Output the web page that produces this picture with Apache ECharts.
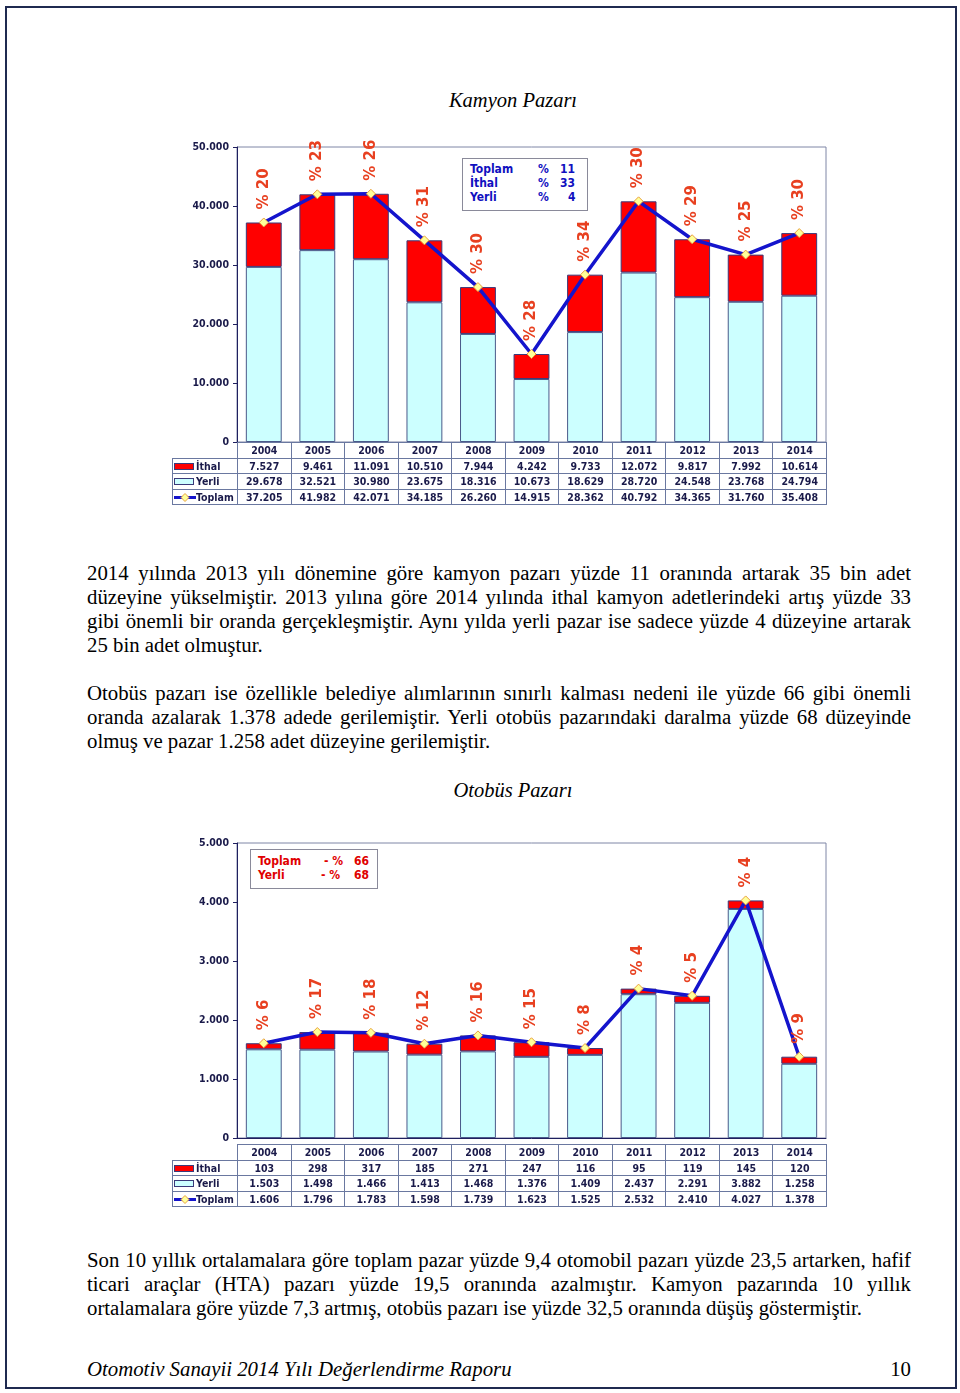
<!DOCTYPE html>
<html>
<head>
<meta charset="utf-8">
<script src="https://cdn.jsdelivr.net/npm/echarts@6/dist/echarts.min.js"></script>
<style>
  html, body { margin:0; padding:0; background:#fff; }
  body { width:960px; height:1393px; position:relative; overflow:hidden; }
  .frame { position:absolute; left:5px; top:6px; width:948px; height:1379px; border:2px solid #1F2A50; }
  .title { position:absolute; left:0; width:1026px; text-align:center; font-family:"Liberation Serif","DejaVu Serif",serif; font-style:italic; font-size:20.5px; color:#000; line-height:24px; }
  .line { position:absolute; left:87px; width:824px; font-family:"Liberation Serif","DejaVu Serif",serif; font-size:20.8px; line-height:24px; color:#000; white-space:nowrap; }
  .line span { display:inline-block; transform-origin:0 50%; white-space:pre; }
  .chart { position:absolute; left:172px; width:660px; }
  table.dt { position:absolute; left:172px; border-collapse:collapse; table-layout:fixed; font-family:"DejaVu Sans Condensed","DejaVu Sans",sans-serif; font-weight:bold; font-size:10.5px; color:#1A1A4A; }
  table.dt td { border:1px solid #6A78A0; padding:0; text-align:center; height:14.5px; line-height:14px; white-space:nowrap; overflow:hidden; }
  table.dt td.blank { border:none; border-right:1px solid #6A78A0; }
  table.dt td.lab { text-align:left; padding-left:1px; }
  .sw { display:inline-block; width:20px; height:7px; vertical-align:-0px; margin-right:2px; box-sizing:border-box; }
  .box { position:absolute; background:#fff; border:1px solid #8A8A9A; font-family:"DejaVu Sans Condensed","DejaVu Sans",sans-serif; font-weight:bold; font-size:12px; line-height:14px; }
  .box div { position:relative; height:14px; }
  .box span { position:absolute; }
</style>
</head>
<body>
<div class="frame"></div>

<div class="title" style="top:88px;">Kamyon Pazarı</div>
<div id="c1" class="chart" style="top:130px;height:320px;"></div>
<table id="t1" class="dt" style="top:442px;"></table>
<div class="box" style="left:462px;top:158px;width:124px;height:51px;color:#1010C0;">
  <div style="margin-top:3px;"><span style="left:7px;">Toplam</span><span style="left:75px;">%</span><span style="left:97px;">11</span></div>
  <div><span style="left:7px;">İthal</span><span style="left:75px;">%</span><span style="left:97px;">33</span></div>
  <div><span style="left:7px;">Yerli</span><span style="left:75px;">%</span><span style="left:105px;">4</span></div>
</div>

<div id="txt"></div>

<div class="title" style="top:778px;">Otobüs Pazarı</div>
<div id="c2" class="chart" style="top:826px;height:320px;"></div>
<table id="t2" class="dt" style="top:1144px;"></table>
<div class="box" style="left:250px;top:849px;width:126px;height:38px;color:#E00000;">
  <div style="margin-top:4px;"><span style="left:7px;">Toplam</span><span style="left:73px;">- %</span><span style="left:103px;">66</span></div>
  <div><span style="left:7px;">Yerli</span><span style="left:70px;">- %</span><span style="left:103px;">68</span></div>
</div>

<script>
// ---------------- DATA ----------------
const years = ['2004','2005','2006','2007','2008','2009','2010','2011','2012','2013','2014'];

const kamyonIthal  = [7527, 9461, 11091, 10510, 7944, 4242, 9733, 12072, 9817, 7992, 10614];
const kamyonYerli  = [29678, 32521, 30980, 23675, 18316, 10673, 18629, 28720, 24548, 23768, 24794];
const kamyonToplam = [37205, 41982, 42071, 34185, 26260, 14915, 28362, 40792, 34365, 31760, 35408];
const kamyonPct    = [20, 23, 26, 31, 30, 28, 34, 30, 29, 25, 30];

const otobusIthal  = [103, 298, 317, 185, 271, 247, 116, 95, 119, 145, 120];
const otobusYerli  = [1503, 1498, 1466, 1413, 1468, 1376, 1409, 2437, 2291, 3882, 1258];
const otobusToplam = [1606, 1796, 1783, 1598, 1739, 1623, 1525, 2532, 2410, 4027, 1378];
const otobusPct    = [6, 17, 18, 12, 16, 15, 8, 4, 5, 4, 9];

const rowNames = ['İthal', 'Yerli', 'Toplam'];

const textLines = [
  // [text, centerY, justify]
  ['2014 yılında 2013 yılı dönemine göre kamyon pazarı yüzde 11 oranında artarak 35 bin adet', 573, true],
  ['düzeyine yükselmiştir. 2013 yılına göre 2014 yılında ithal kamyon adetlerindeki artış yüzde 33', 597, true],
  ['gibi önemli bir oranda gerçekleşmiştir. Aynı yılda yerli pazar ise sadece yüzde 4 düzeyine artarak', 621, true],
  ['25 bin adet olmuştur.', 645, false],
  ['Otobüs pazarı ise özellikle belediye alımlarının sınırlı kalması nedeni ile yüzde 66 gibi önemli', 693, true],
  ['oranda azalarak 1.378 adede gerilemiştir. Yerli otobüs pazarındaki daralma yüzde 68 düzeyinde', 717, true],
  ['olmuş ve pazar 1.258 adet düzeyine gerilemiştir.', 741, false],
  ['Son 10 yıllık ortalamalara göre toplam pazar yüzde 9,4 otomobil pazarı yüzde 23,5 artarken, hafif', 1260, true],
  ['ticari araçlar (HTA) pazarı yüzde 19,5 oranında azalmıştır. Kamyon pazarında 10 yıllık', 1284, true],
  ['ortalamalara göre yüzde 7,3 artmış, otobüs pazarı ise yüzde 32,5 oranında düşüş göstermiştir.', 1308, false]
];
const footerText = 'Otomotiv Sanayii 2014 Yılı Değerlendirme Raporu';
const pageNo = '10';

// ---------------- HELPERS ----------------
function fmt(v) {
  return String(v).replace(/\B(?=(\d{3})+(?!\d))/g, '.');
}

const AXIS_FONT = '"DejaVu Sans Condensed","DejaVu Sans",sans-serif';

function makeOption(yerli, ithal, toplam, pct, maxV, step) {
  return {
    animation: false,
    grid: { left: 65, right: 6, top: 17, bottom: 8, show: true, borderColor: '#7E86A6', borderWidth: 1 },
    xAxis: {
      type: 'category', data: years,
      axisLabel: { show: false }, axisTick: { show: false },
      axisLine: { lineStyle: { color: '#1F1F5F', width: 1 } }
    },
    yAxis: {
      type: 'value', min: 0, max: maxV, interval: step,
      axisLine: { show: true, lineStyle: { color: '#1F1F5F', width: 1 } },
      axisTick: { show: true, length: 4, lineStyle: { color: '#1F1F5F' } },
      splitLine: { show: false },
      axisLabel: { formatter: fmt, color: '#1A1A4A', fontWeight: 'bold', fontSize: 10.5, fontFamily: AXIS_FONT, margin: 8 }
    },
    series: [
      { type: 'bar', stack: 's', data: yerli, barWidth: '67%',
        itemStyle: { color: '#CCFFFF', borderColor: '#4A5A8A', borderWidth: 1 } },
      { type: 'bar', stack: 's', data: ithal, barWidth: '67%',
        itemStyle: { color: '#FF0000', borderColor: '#3A3A7A', borderWidth: 1 } },
      { type: 'line', data: toplam, z: 5,
        lineStyle: { color: '#1414CC', width: 3.5 },
        symbol: 'diamond', symbolSize: 9,
        itemStyle: { color: '#FFFF99', borderColor: '#E8A040', borderWidth: 1 },
        label: {
          show: true, position: 'top', rotate: 90, align: 'left', verticalAlign: 'middle', distance: 8,
          formatter: p => '% ' + pct[p.dataIndex],
          color: '#E84020', fontSize: 15, fontWeight: 'bold', fontFamily: '"DejaVu Sans",sans-serif'
        } }
    ]
  };
}

function swatch(i) {
  if (i === 0) return '<span class="sw" style="background:#FF0000;border:1px solid #3A3A7A;"></span>';
  if (i === 1) return '<span class="sw" style="background:#CCFFFF;border:1px solid #3A3A7A;"></span>';
  return '<svg width="22" height="9" style="vertical-align:-1px;margin-right:0px;"><line x1="0" y1="4.5" x2="22" y2="4.5" stroke="#1414CC" stroke-width="3"/><path d="M11 0.5 L15 4.5 L11 8.5 L7 4.5 Z" fill="#FFFF99" stroke="#E8A040" stroke-width="1"/></svg>';
}

function buildTable(id, rows) {
  const t = document.getElementById(id);
  let h = '<colgroup><col style="width:65px">' + years.map(() => '<col style="width:53.55px">').join('') + '</colgroup>';
  h += '<tr><td class="blank"></td>' + years.map(y => '<td>' + y + '</td>').join('') + '</tr>';
  rows.forEach((r, i) => {
    h += '<tr><td class="lab">' + swatch(i) + rowNames[i] + '</td>' + r.map(v => '<td>' + fmt(v) + '</td>').join('') + '</tr>';
  });
  t.innerHTML = h;
  t.style.width = (65 + 589) + 'px';
}

// ---------------- CHARTS ----------------
const c1 = echarts.init(document.getElementById('c1'));
c1.setOption(makeOption(kamyonYerli, kamyonIthal, kamyonToplam, kamyonPct, 50000, 10000));
const c2 = echarts.init(document.getElementById('c2'));
c2.setOption(makeOption(otobusYerli, otobusIthal, otobusToplam, otobusPct, 5000, 1000));

buildTable('t1', [kamyonIthal, kamyonYerli, kamyonToplam]);
buildTable('t2', [otobusIthal, otobusYerli, otobusToplam]);

// ---------------- TEXT ----------------
const txt = document.getElementById('txt');
const spans = [];
textLines.forEach(([s, cy, just]) => {
  const d = document.createElement('div');
  d.className = 'line';
  d.style.top = (cy - 12) + 'px';
  const sp = document.createElement('span');
  sp.textContent = s;
  d.appendChild(sp);
  txt.appendChild(d);
  spans.push([sp, just, s]);
});
const foot = document.createElement('div');
foot.className = 'line';
foot.style.top = (1369 - 12) + 'px';
foot.style.fontStyle = 'italic';
foot.innerHTML = '<span>' + footerText + '</span><span style="position:absolute;right:0;top:0;font-style:normal;">' + pageNo + '</span>';
txt.appendChild(foot);

spans.forEach(([sp, just, s]) => {
  const w = sp.getBoundingClientRect().width;
  if (w > 824) {
    sp.style.transform = 'scaleX(' + (824 / w) + ')';
  } else if (just) {
    const n = (s.match(/ /g) || []).length;
    sp.style.wordSpacing = ((824 - w) / n) + 'px';
  }
});
</script>
</body>
</html>
